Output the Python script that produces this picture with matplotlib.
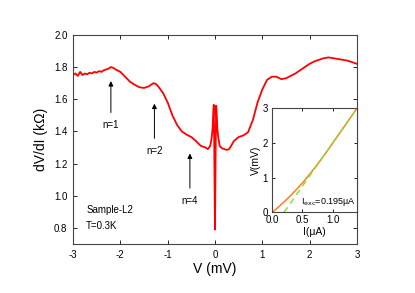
import matplotlib
matplotlib.use('Agg')
import matplotlib.pyplot as plt
import numpy as np

plt.rcParams['font.family'] = ['Liberation Sans', 'DejaVu Sans']

# main dV/dI curve
v_mv = [-3.0, -2.95, -2.9, -2.85, -2.8, -2.75, -2.7, -2.65, -2.6, -2.55, -2.5, -2.45,
        -2.4, -2.35, -2.3, -2.25, -2.2, -2.15, -2.1, -2.0, -1.9, -1.8, -1.7, -1.6,
        -1.5, -1.4, -1.3, -1.25, -1.2, -1.1, -1.0, -0.9, -0.8, -0.7, -0.6, -0.5,
        -0.4, -0.3, -0.2, -0.15, -0.1, -0.07, -0.05, -0.035, -0.025, -0.015, -0.008,
        0.0, 0.008, 0.015, 0.025, 0.035, 0.05, 0.07, 0.1, 0.15, 0.2, 0.25, 0.3,
        0.4, 0.5, 0.6, 0.7, 0.8, 0.9, 1.0, 1.1, 1.2, 1.3, 1.4, 1.5, 1.6, 1.7,
        1.8, 1.9, 2.0, 2.1, 2.2, 2.3, 2.4, 2.5, 2.6, 2.7, 2.8, 2.9, 3.0]
dvdi = [1.75, 1.76, 1.745, 1.77, 1.75, 1.76, 1.755, 1.765, 1.76, 1.77, 1.765, 1.775,
        1.77, 1.78, 1.785, 1.79, 1.80, 1.795, 1.785, 1.77, 1.74, 1.71, 1.69, 1.675,
        1.67, 1.68, 1.70, 1.695, 1.68, 1.64, 1.58, 1.50, 1.44, 1.40, 1.38, 1.365,
        1.34, 1.31, 1.30, 1.29, 1.31, 1.36, 1.42, 1.52, 1.565, 1.30, 1.05,
        0.79, 1.05, 1.30, 1.56, 1.52, 1.42, 1.36, 1.31, 1.295, 1.29, 1.285, 1.29,
        1.34, 1.365, 1.375, 1.395, 1.47, 1.58, 1.66, 1.72, 1.74, 1.74, 1.725, 1.73, 1.745, 1.76,
        1.78, 1.80, 1.82, 1.835, 1.845, 1.855, 1.86, 1.855, 1.85, 1.845, 1.84, 1.83, 1.82]

# inset I-V curve
i_ua = [0.0, 0.1, 0.2, 0.3, 0.4, 0.5, 0.6, 0.7, 0.8, 0.9, 1.0, 1.1, 1.2, 1.3, 1.4]
v_iv = [0.0, 0.15, 0.31, 0.48, 0.66, 0.85, 1.06, 1.28, 1.51, 1.75, 2.0, 2.25, 2.5, 2.75, 3.0]
i_exc = 0.195
fit_i = [i_exc, 1.4]
fit_v = [0.0, 3.0]

# arrows: (x, tail y, head y, label)
arrows = [(-2.2, 1.50, 1.73, 'n=1'), (-1.28, 1.34, 1.59, 'n=2'), (-0.53, 1.03, 1.28, 'n=4')]

fig = plt.figure(figsize=(4.15, 2.93), dpi=100)
ax = fig.add_axes([0.176, 0.167, 0.684, 0.714])
ax.plot(v_mv, dvdi, color='#ff0000', lw=1.3)
ax.set_xlim(-3, 3)
ax.set_ylim(0.7, 2.0)
ax.set_xticks([-3, -2, -1, 0, 1, 2, 3])
ax.set_xticklabels(['-3', '-2', '-1', '0', '1', '2', '3'])
ax.set_yticks([0.8, 1.0, 1.2, 1.4, 1.6, 1.8, 2.0])
ax.tick_params(direction='in', top=True, right=True, labelsize=7, length=3, width=0.6, pad=4)
for s in ax.spines.values():
    s.set_linewidth(0.8)
    s.set_color('#444444')
ax.set_xlabel('V (mV)', fontsize=10, labelpad=2)
ax.set_ylabel('dV/dI (k\u03a9)', fontsize=10, labelpad=4)

for x, y0, y1, lab in arrows:
    ax.annotate('', xy=(x, y1), xytext=(x, y0),
                arrowprops=dict(arrowstyle='-|>', color='k', lw=0.7, mutation_scale=7))
    ax.text(x, y0 - 0.03, lab, ha='center', va='top', fontsize=7)

ax.text(-2.72, 0.91, 'Sample-L2', fontsize=7, va='center')
ax.text(-2.72, 0.81, 'T=0.3K', fontsize=7, va='center')

ins = fig.add_axes([0.656, 0.275, 0.204, 0.355])
ins.plot(i_ua, v_iv, color='#ff7f1e', lw=1.1)
ins.plot(fit_i, fit_v, color='#88e030', lw=1.1, ls=(0, (4, 3)))
ins.set_xlim(0, 1.4)
ins.set_ylim(0, 3)
ins.set_xticks([0.0, 0.5, 1.0])
ins.set_xticklabels(['0.0', '0.5', '1.0'])
ins.set_yticks([0, 1, 2, 3])
ins.tick_params(direction='in', top=True, right=True, labelsize=7, length=2.5, width=0.6, pad=2)
ins.tick_params(axis='y', pad=3)
for s in ins.spines.values():
    s.set_linewidth(0.8)
    s.set_color('#444444')
ins.set_xlabel('I(\u03bcA)', fontsize=7.5, labelpad=1)
ins.set_ylabel('V(mV)', fontsize=7.5, labelpad=1)
ins.text(0.47, 0.32, 'I$_{\\rm exc}$=0.195\u03bcA', fontsize=6.5, va='center')

fig.savefig('out.png', dpi=100)
